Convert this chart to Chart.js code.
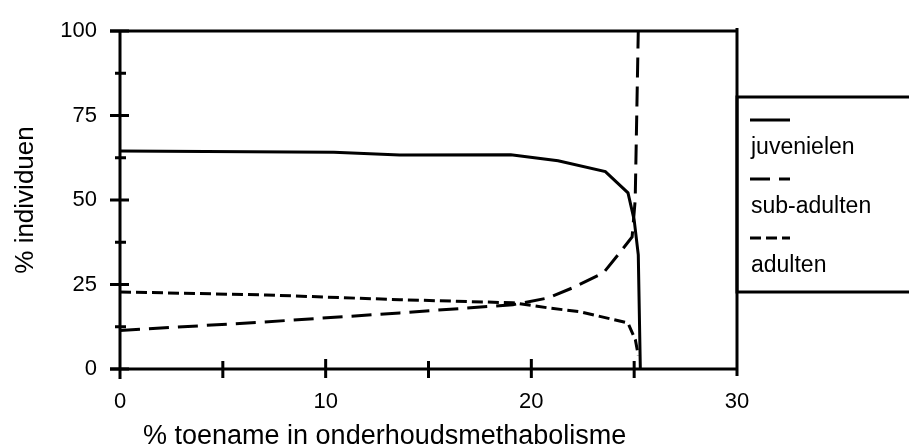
<!DOCTYPE html>
<html>
  <head>
    <title>% individuen</title>
    <script src="https://cdn.jsdelivr.net/npm/chart.js"></script>
    <style>
      html,
      body {
        margin: 0;
        padding: 0;
        background: #fff;
      }
    </style>
  </head>
  <body>
    <canvas id="myChart" width="909" height="446"></canvas>

    <script>
      // series
      const seriesNames = ["juvenielen", "sub-adulten", "adulten"];

      const juvX = [0, 10.4, 13.6, 19.0, 21.3, 23.6, 24.7, 25.0, 25.2, 25.3];
      const juvY = [64.5, 64.1, 63.3, 63.4, 61.6, 58.4, 52.1, 44.1, 33.8, 0];

      const subX = [0, 7.0, 13.6, 19.1, 20.8, 22.0, 23.5, 24.3, 24.9, 25.05, 25.2];
      const subY = [11.4, 13.9, 16.6, 19.0, 21.0, 24.0, 28.4, 34.4, 39.1, 50, 100];

      const adX = [0, 7.1, 13.6, 19.1, 20.8, 22.4, 24.7, 25.06, 25.2];
      const adY = [22.8, 21.9, 20.5, 19.6, 18.1, 16.9, 13.6, 8.6, 4];

      const xLabels = [0, 10, 20, 30];
      const yLabels = [0, 25, 50, 75, 100];
      const xTitle = "% toename in onderhoudsmethabolisme";

      function pts(xs, ys) {
        return xs.map((x, i) => ({ x: x, y: ys[i] }));
      }

      const FONT = "'Liberation Sans', Arial, sans-serif";

      // box round the plot area plus the hand-drawn looking tick marks
      const frame = {
        id: "frame",
        afterDatasetsDraw(chart) {
          const { ctx, chartArea: a, scales } = chart;
          ctx.save();
          ctx.strokeStyle = "#000";
          ctx.lineWidth = 3;
          ctx.lineCap = "butt";
          ctx.beginPath();
          ctx.moveTo(a.left - 10, a.top);
          ctx.lineTo(a.right, a.top);
          ctx.moveTo(a.left, a.top);
          ctx.lineTo(a.left, a.bottom + 10);
          ctx.moveTo(a.left - 10, a.bottom);
          ctx.lineTo(a.right, a.bottom);
          ctx.moveTo(a.right, a.top - 3);
          ctx.lineTo(a.right, a.bottom + 7);
          ctx.stroke();

          ctx.beginPath();
          scales.y.ticks.forEach((t) => {
            const py = scales.y.getPixelForValue(t.value);
            if (t.value % 25 === 0) {
              ctx.moveTo(a.left - 10, py);
              ctx.lineTo(a.left + 9, py);
            } else {
              ctx.moveTo(a.left - 5, py);
              ctx.lineTo(a.left + 6, py);
            }
          });
          scales.x.ticks.forEach((t) => {
            if (t.value === 0 || t.value === 30) return;
            const px = scales.x.getPixelForValue(t.value);
            const up = t.value % 10 === 0 ? 10 : 8;
            ctx.moveTo(px, a.bottom - up);
            ctx.lineTo(px, a.bottom + 9);
          });
          ctx.stroke();
          ctx.restore();
        },
        afterDraw(chart) {
          const { ctx, chartArea: a } = chart;
          ctx.save();
          // x axis title sits left of centre in the original
          ctx.font = "27px " + FONT;
          ctx.fillStyle = "#000";
          ctx.textAlign = "left";
          ctx.textBaseline = "alphabetic";
          ctx.fillText(xTitle, 143, 444);

          // legend: line sample above each label, inside an open box
          const top = 97, bottom = 292;
          ctx.strokeStyle = "#000";
          ctx.lineWidth = 3;
          ctx.strokeRect(a.right, top, 200, bottom - top);
          ctx.font = "23px " + FONT;
          ctx.textBaseline = "middle";
          chart.data.datasets.forEach((ds, i) => {
            const ly = top + 23 + i * 59;
            ctx.beginPath();
            ctx.setLineDash(ds.borderDash || []);
            ctx.lineWidth = 3;
            ctx.moveTo(a.right + 13, ly);
            ctx.lineTo(a.right + 53, ly);
            ctx.stroke();
            ctx.setLineDash([]);
            ctx.fillText(ds.label, a.right + 14, ly + 28);
          });
          ctx.restore();
        },
      };

      const ctx = document.getElementById("myChart").getContext("2d");
      new Chart(ctx, {
        type: "line",
        data: {
          datasets: [
            {
              label: seriesNames[0],
              data: pts(juvX, juvY),
              borderColor: "#000",
              borderWidth: 3,
              pointRadius: 0,
              tension: 0,
            },
            {
              label: seriesNames[1],
              data: pts(subX, subY),
              borderColor: "#000",
              borderWidth: 3,
              borderDash: [20, 9],
              pointRadius: 0,
              tension: 0,
            },
            {
              label: seriesNames[2],
              data: pts(adX, adY),
              borderColor: "#000",
              borderWidth: 3,
              borderDash: [11, 5],
              pointRadius: 0,
              tension: 0,
            },
          ],
        },
        options: {
          responsive: false,
          animation: false,
          layout: {
            padding: { left: 0, top: 31, right: 172, bottom: 0 },
          },
          plugins: {
            legend: { display: false },
            tooltip: { enabled: false },
          },
          scales: {
            x: {
              type: "linear",
              min: 0,
              max: 30,
              border: { display: false },
              grid: { display: false, drawTicks: false },
              ticks: {
                stepSize: 5,
                padding: 20,
                color: "#000",
                font: { family: FONT, size: 22 },
                callback: (v) => (xLabels.includes(v) ? String(v) : ""),
              },
              title: { display: false },
              afterFit: (s) => {
                s.height = 77;
              },
            },
            y: {
              min: 0,
              max: 100,
              border: { display: false },
              // tick marks are drawn by the frame plugin; tickLength only spaces the labels
              grid: { display: false, drawTicks: true, tickLength: 23 },
              ticks: {
                stepSize: 12.5,
                padding: 0,
                color: "#000",
                font: { family: FONT, size: 22 },
                callback: (v) => (yLabels.includes(v) ? String(v) : ""),
              },
              title: {
                display: true,
                text: "% individuen",
                color: "#000",
                font: { family: FONT, size: 26 },
                padding: { top: 10, bottom: 0 },
              },
              afterFit: (s) => {
                s.width = 120;
              },
            },
          },
        },
        plugins: [frame],
      });
    </script>
  </body>
</html>
